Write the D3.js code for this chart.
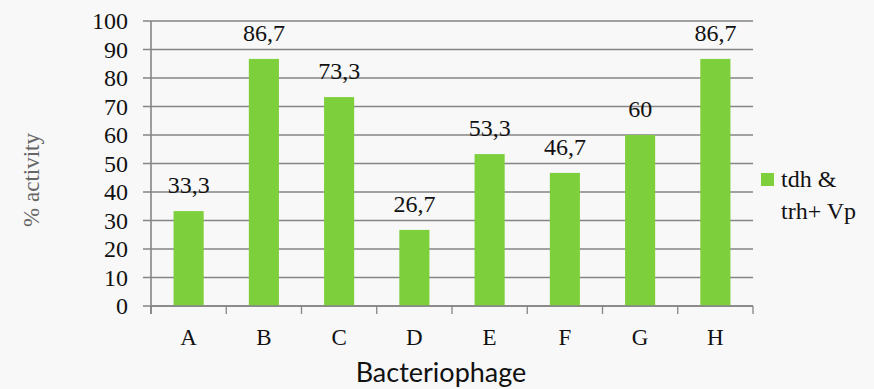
<!DOCTYPE html>
<html>
<head>
<meta charset="utf-8">
<script src="https://cdn.jsdelivr.net/npm/d3@7"></script>
<style>
  html, body { margin: 0; padding: 0; background: #f8f8f8; }
  svg { display: block; }
  .serif { font-family: "Liberation Serif", "Times New Roman", Times, serif; }
  .sans { font-family: Lato, "Open Sans", sans-serif; }
</style>
</head>
<body>
<svg id="chart" width="874" height="389"></svg>
<script>
// Bacteriophage activity against tdh & trh+ V. parahaemolyticus
const categories = ["A", "B", "C", "D", "E", "F", "G", "H"];
const values = [33.3, 86.7, 73.3, 26.7, 53.3, 46.7, 60, 86.7];
const valueLabels = ["33,3", "86,7", "73,3", "26,7", "53,3", "46,7", "60", "86,7"];
const yTicks = [0, 10, 20, 30, 40, 50, 60, 70, 80, 90, 100];
const seriesName = ["tdh &", "trh+ Vp"];

const svg = d3.select("#chart");
const plotLeft = 151, plotRight = 753, plotTop = 21, plotBottom = 306;
const green = "#7dcf3c";
const gridColor = "#858585";

const x = d3.scaleBand().domain(categories).range([plotLeft, plotRight]).paddingInner(0.6).paddingOuter(0.3);
const xEdge = d3.scaleLinear().domain([0, categories.length]).range([plotLeft, plotRight]);
const y = d3.scaleLinear().domain([0, 100]).range([plotBottom, plotTop]);

// horizontal gridlines with small outer ticks
svg.append("g")
  .selectAll("line")
  .data(yTicks)
  .join("line")
  .attr("x1", plotLeft - 8).attr("x2", plotRight)
  .attr("y1", d => y(d)).attr("y2", d => y(d))
  .attr("stroke", gridColor).attr("stroke-width", 1.3);

// y-axis labels
svg.append("g")
  .selectAll("text")
  .data(yTicks)
  .join("text")
  .attr("class", "serif")
  .attr("x", plotLeft - 23).attr("y", d => y(d) + 8)
  .attr("text-anchor", "end")
  .style("font-size", "24px")
  .attr("fill", "#111")
  .text(d => d);

// bars
svg.append("g")
  .selectAll("rect")
  .data(values)
  .join("rect")
  .attr("x", (d, i) => x(categories[i]))
  .attr("width", x.bandwidth())
  .attr("y", d => y(d))
  .attr("height", d => y(0) - y(d))
  .attr("fill", green);

// value labels
svg.append("g")
  .selectAll("text")
  .data(values)
  .join("text")
  .attr("class", "serif")
  .attr("x", (d, i) => x(categories[i]) + x.bandwidth() / 2)
  .attr("y", d => y(d) - 18)
  .attr("text-anchor", "middle")
  .style("font-size", "24px")
  .attr("fill", "#111")
  .text((d, i) => valueLabels[i]);

// axis lines
svg.append("line")
  .attr("x1", plotLeft).attr("x2", plotLeft).attr("y1", plotTop).attr("y2", plotBottom + 8)
  .attr("stroke", gridColor).attr("stroke-width", 1.6);
svg.append("line")
  .attr("x1", plotLeft).attr("x2", plotRight).attr("y1", plotBottom).attr("y2", plotBottom)
  .attr("stroke", gridColor).attr("stroke-width", 1.6);

// x-axis ticks at category boundaries
svg.append("g")
  .selectAll("line")
  .data(d3.range(categories.length + 1))
  .join("line")
  .attr("x1", d => xEdge(d)).attr("x2", d => xEdge(d))
  .attr("y1", plotBottom).attr("y2", plotBottom + 8)
  .attr("stroke", gridColor).attr("stroke-width", 1.3);

// x-axis labels
svg.append("g")
  .selectAll("text")
  .data(categories)
  .join("text")
  .attr("class", "serif")
  .attr("x", d => x(d) + x.bandwidth() / 2)
  .attr("y", 345)
  .attr("text-anchor", "middle")
  .style("font-size", "23px")
  .attr("fill", "#111")
  .text(d => d);

// axis titles
svg.append("text")
  .attr("class", "sans")
  .attr("x", 441).attr("y", 382)
  .attr("text-anchor", "middle")
  .style("font-size", "27px")
  .attr("fill", "#111")
  .text("Bacteriophage");

svg.append("text")
  .attr("class", "serif")
  .attr("transform", "translate(39,180) rotate(-90)")
  .attr("text-anchor", "middle")
  .style("font-size", "23px")
  .attr("fill", "#666")
  .text("% activity");

// legend
const legend = svg.append("g");
legend.append("rect")
  .attr("x", 761).attr("y", 173).attr("width", 13).attr("height", 13)
  .attr("fill", green);
legend.selectAll("text")
  .data(seriesName)
  .join("text")
  .attr("class", "serif")
  .attr("x", 781).attr("y", (d, i) => 187 + i * 32)
  .style("font-size", "24px")
  .attr("fill", "#111")
  .text(d => d);
</script>
</body>
</html>
